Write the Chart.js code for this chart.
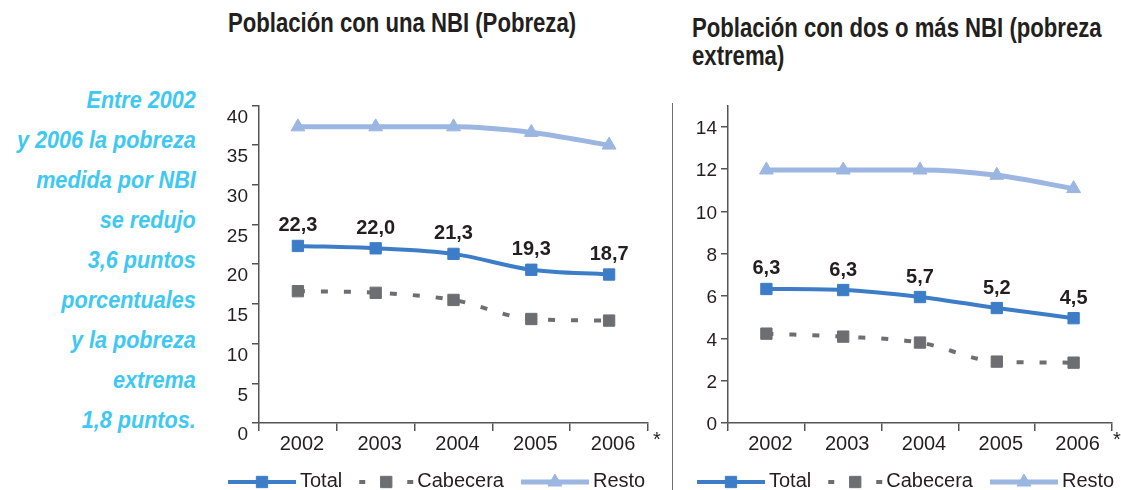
<!DOCTYPE html>
<html lang="es">
<head>
    <meta charset="UTF-8">
    <title>Pobreza NBI</title>
    <script src="https://cdn.jsdelivr.net/npm/chart.js"></script>
    <style>
        body {
            margin: 0;
            background: #fff;
            font-family: 'Liberation Sans', Arial, sans-serif;
        }

        .page {
            position: relative;
            width: 1121px;
            height: 490px;
            overflow: hidden;
        }

        /* no narrow font installed, so squeeze the text a bit */
        .title {
            position: absolute;
            font-weight: bold;
            font-size: 27px;
            line-height: 28px;
            color: #231f20;
            white-space: nowrap;
            transform: scaleX(0.82);
            transform-origin: left top;
        }

        .note {
            position: absolute;
            right: 925px;
            top: 80px;
            text-align: right;
            font-weight: bold;
            font-style: italic;
            font-size: 24px;
            line-height: 40px;
            color: #3ec8f2;
            white-space: nowrap;
            transform: scaleX(0.9);
            transform-origin: right top;
        }

        .divider {
            position: absolute;
            left: 672px;
            top: 103px;
            width: 1px;
            height: 387px;
            background: #6d6e71;
        }

        .box {
            position: absolute;
            top: 90px;
            height: 400px;
        }

        .star {
            position: absolute;
            top: 429px;
            font-size: 20px;
            line-height: 20px;
            color: #231f20;
        }
    </style>
</head>
<body>
<div class="page">
    <div class="title" style="left: 228px; top: 9px;">Población con una NBI (Pobreza)</div>
    <div class="title" style="left: 692px; top: 14px;">Población con dos o más NBI (pobreza<br>extrema)</div>

    <div class="note">Entre 2002<br>y 2006 la pobreza<br>medida por NBI<br>se redujo<br>3,6 puntos<br>porcentuales<br>y la pobreza<br>extrema<br>1,8 puntos.</div>

    <div class="divider"></div>

    <div class="box" style="left: 220px; width: 450px;"><canvas id="nbiChart"></canvas></div>
    <div class="box" style="left: 680px; width: 441px;"><canvas id="extremaChart"></canvas></div>

    <span class="star" style="left: 653px;">*</span>
    <span class="star" style="left: 1113px;">*</span>
</div>

<script>
    const years = ['2002', '2003', '2004', '2005', '2006'];

    // Población con una NBI
    const nbiTicks = [0, 5, 10, 15, 20, 25, 30, 35, 40];
    const nbiTotal = [22.3, 22.0, 21.3, 19.3, 18.7];
    const nbiCabecera = [16.6, 16.4, 15.5, 13.1, 12.9];
    const nbiResto = [37.3, 37.3, 37.3, 36.6, 35.0];
    const nbiTotalLabels = ['22,3', '22,0', '21,3', '19,3', '18,7'];

    // Población con dos o más NBI
    const extTicks = [0, 2, 4, 6, 8, 10, 12, 14];
    const extTotal = [6.33, 6.28, 5.95, 5.43, 4.95];
    const extCabecera = [4.22, 4.08, 3.8, 2.9, 2.85];
    const extResto = [11.95, 11.95, 11.95, 11.7, 11.07];
    const extTotalLabels = ['6,3', '6,3', '5,7', '5,2', '4,5'];

    const FONT = "'Liberation Sans', Arial, sans-serif";
    const INK = '#231f20';
    const AXIS = '#555555';

    Chart.defaults.font.family = FONT;
    Chart.defaults.color = INK;

    // value labels above the Total line
    const valueLabels = {
        id: 'valueLabels',
        afterDatasetsDraw(chart) {
            const ctx = chart.ctx;
            chart.data.datasets.forEach((ds, i) => {
                if (!ds.valueText) return;
                const meta = chart.getDatasetMeta(i);
                ctx.save();
                ctx.font = 'bold 20px ' + FONT;
                ctx.fillStyle = INK;
                ctx.textAlign = 'center';
                ctx.textBaseline = 'bottom';
                meta.data.forEach((pt, j) => {
                    ctx.fillText(ds.valueText[j], pt.x, pt.y - 10);
                });
                ctx.restore();
            });
        }
    };

    // legend with line + marker, like the original
    const lineLegend = {
        id: 'lineLegend',
        afterDraw(chart, args, opts) {
            const ctx = chart.ctx;
            const y = opts.y;
            let x = opts.x;
            ctx.save();
            ctx.font = '20px ' + FONT;
            ctx.textBaseline = 'middle';
            chart.data.datasets.forEach(ds => {
                const len = ds.legendLength || 68;
                ctx.strokeStyle = ds.borderColor;
                ctx.lineWidth = ds.borderWidth;
                ctx.setLineDash(ds.legendDash || []);
                ctx.beginPath();
                ctx.moveTo(x, y);
                ctx.lineTo(x + len, y);
                ctx.stroke();
                ctx.setLineDash([]);
                ctx.fillStyle = ds.borderColor;
                ctx.lineWidth = 1;
                Chart.helpers.drawPoint(ctx, {
                    pointStyle: ds.pointStyle,
                    radius: ds.pointRadius,
                    borderWidth: 1
                }, x + len / 2, y);
                ctx.fillStyle = INK;
                ctx.fillText(ds.label, x + len + 4, y - 1);
                x += len + 4 + ctx.measureText(ds.label).width + 17;
            });
            ctx.restore();
        }
    };

    function makeDatasets(total, cabecera, resto, labels) {
        return [
            {
                label: 'Total',
                data: total,
                valueText: labels,
                borderColor: '#3d7dc8',
                backgroundColor: '#3d7dc8',
                pointBorderColor: '#3d7dc8',
                borderWidth: 4,
                pointStyle: 'rect',
                pointRadius: 8,
                pointBorderWidth: 1,
                cubicInterpolationMode: 'monotone'
            },
            {
                label: 'Cabecera',
                data: cabecera,
                borderColor: '#6d6e71',
                backgroundColor: '#6d6e71',
                pointBorderColor: '#6d6e71',
                borderWidth: 4,
                borderDash: [7, 16],
                legendLength: 54,
                legendDash: [6, 42],
                pointStyle: 'rect',
                pointRadius: 8,
                pointBorderWidth: 1,
                cubicInterpolationMode: 'monotone'
            },
            {
                label: 'Resto',
                data: resto,
                borderColor: '#9cb6e2',
                backgroundColor: '#9cb6e2',
                pointBorderColor: '#9cb6e2',
                borderWidth: 5,
                pointStyle: 'triangle',
                pointRadius: 8,
                pointBorderWidth: 1,
                cubicInterpolationMode: 'monotone'
            }
        ];
    }

    function makeChart(id, datasets, tickValues, yMax, yWidth, yLabelShift, padRight, legendX) {
        return new Chart(document.getElementById(id), {
            type: 'line',
            data: { labels: years, datasets: datasets },
            plugins: [valueLabels, lineLegend],
            options: {
                responsive: true,
                maintainAspectRatio: false,
                animation: false,
                layout: { padding: { top: 13, right: padRight, bottom: 32, left: 0 } },
                plugins: {
                    legend: { display: false },
                    tooltip: { enabled: false },
                    lineLegend: { x: legendX, y: 392 }
                },
                scales: {
                    x: {
                        offset: true,
                        grid: {
                            offset: true,
                            drawOnChartArea: false,
                            drawTicks: true,
                            tickLength: 8,
                            color: AXIS,
                            lineWidth: 1.5
                        },
                        border: { color: AXIS, width: 1.5 },
                        ticks: {
                            padding: 1,
                            labelOffset: 4,
                            font: { size: 20 },
                            color: INK,
                            maxRotation: 0
                        },
                        afterFit: s => { s.height = 35; }
                    },
                    y: {
                        min: 0,
                        max: yMax,
                        grid: {
                            drawOnChartArea: false,
                            drawTicks: true,
                            tickLength: 7,
                            color: AXIS,
                            lineWidth: 1.5
                        },
                        border: { color: AXIS, width: 1.5 },
                        ticks: {
                            padding: 4,
                            labelOffset: yLabelShift,
                            font: { size: 19 },
                            color: INK
                        },
                        afterBuildTicks: s => {
                            s.ticks = tickValues.map(v => ({ value: v }));
                        },
                        afterFit: s => { s.width = yWidth; }
                    }
                }
            }
        });
    }

    makeChart('nbiChart', makeDatasets(nbiTotal, nbiCabecera, nbiResto, nbiTotalLabels),
        nbiTicks, 40, 39, 12, 22, 8);
    makeChart('extremaChart', makeDatasets(extTotal, extCabecera, extResto, extTotalLabels),
        extTicks, 15, 48, 2, 4, 17);
</script>
</body>
</html>
